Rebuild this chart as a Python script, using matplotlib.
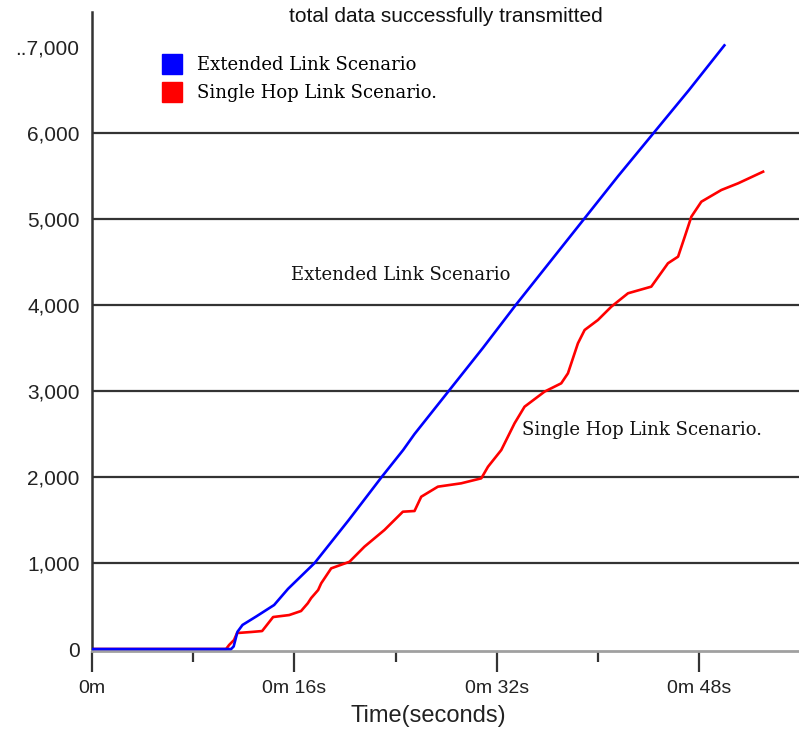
import matplotlib
matplotlib.use("Agg")
import matplotlib.pyplot as plt
from matplotlib.lines import Line2D

# time in seconds, total data transmitted
ext_t = [0, 11.0, 11.2, 11.5, 11.9, 13.0, 14.4, 15.5, 17.6, 20.3, 22.9, 24.6,
         25.5, 28.2, 30.9, 33.5, 36.2, 38.9, 41.6, 44.4, 47.2, 50.0]
ext_v = [0, 0, 30, 200, 280, 380, 512, 700, 1000, 1500, 2000, 2314,
         2500, 3000, 3500, 4000, 4500, 5000, 5500, 6000, 6500, 7020]

hop_t = [0, 10.6, 10.84, 11.23, 11.47, 12.58, 13.45, 14.32, 15.59, 16.53, 17.06,
         17.33, 17.88, 18.12, 18.91, 20.36, 21.54, 23.12, 24.58, 25.5, 26.03,
         27.35, 29.19, 30.78, 31.31, 32.36, 33.41, 34.2, 35.78, 37.1, 37.63,
         38.42, 38.95, 40.0, 41.06, 42.38, 44.22, 45.54, 46.34, 46.87, 47.39,
         48.18, 49.76, 51.09, 53.06]
hop_v = [0, 0, 47, 105, 186, 198, 209, 372, 395, 442, 532,
         593, 686, 764, 938, 1015, 1190, 1384, 1597, 1605, 1771,
         1888, 1927, 1985, 2120, 2314, 2625, 2818, 2993, 3090, 3206,
         3555, 3710, 3826, 3981, 4137, 4214, 4486, 4563, 4796, 5028,
         5202, 5338, 5416, 5551]

x_ticks = [0, 16, 32, 48]
x_labels = ["0m", "0m 16s", "0m 32s", "0m 48s"]
y_ticks = [0, 1000, 2000, 3000, 4000, 5000, 6000, 7000]
y_labels = ["0", "1,000", "2,000", "3,000", "4,000", "5,000", "6,000", "..7,000"]

sans = ["Liberation Sans", "DejaVu Sans"]
serif = "DejaVu Serif"

fig = plt.figure(figsize=(7.99, 7.34), dpi=100)
ax = fig.add_axes([92 / 799, 83 / 734, 707 / 799, 639 / 734])

ax.plot(ext_t, ext_v, color="#0000ff", lw=1.9, zorder=3)
ax.plot(hop_t, hop_v, color="#ff0000", lw=1.9, zorder=2)

ax.set_xlim(0, 55.9)
ax.set_ylim(-23, 7408)

for g in y_ticks[1:-1]:
    ax.axhline(g, color="#333333", lw=1.6, zorder=1)

ax.set_xticks(x_ticks)
ax.set_xticklabels(x_labels, family=sans, fontsize=14, color="#222222")
ax.set_xticks([8, 24, 40], minor=True)
ax.tick_params(axis="x", which="major", length=15, width=1.6, color="#333333", pad=6)
ax.tick_params(axis="x", which="minor", length=8, width=1.6, color="#333333")
ax.set_yticks(y_ticks)
ax.set_yticklabels(y_labels, family=sans, fontsize=15, color="#222222")
ax.tick_params(axis="y", length=0, pad=9)

for s in ["top", "right"]:
    ax.spines[s].set_visible(False)
ax.spines["left"].set_color("#333333")
ax.spines["left"].set_linewidth(1.8)
ax.spines["bottom"].set_color("#a0a0a0")
ax.spines["bottom"].set_linewidth(2)

ax.set_xlabel("Time(seconds)", family=sans, fontsize=17, color="#222222")
ax.xaxis.set_label_coords(0.475, -0.084)

fig.text(446 / 799, 1 - 17 / 734, "total data successfully transmitted",
         family=sans, fontsize=15, color="#111111", ha="center", va="center")

handles = [Line2D([], [], marker="s", ls="", color="#0000ff", markersize=14),
           Line2D([], [], marker="s", ls="", color="#ff0000", markersize=14)]
ax.legend(handles, ["Extended Link Scenario", "Single Hop Link Scenario."],
          loc="upper left", bbox_to_anchor=(152 / 799, 1 - 47 / 734),
          bbox_transform=fig.transFigure, frameon=False, borderpad=0,
          handlelength=1.2, handletextpad=0.8, labelspacing=0.55,
          prop={"family": serif, "size": 13})

ax.text(15.74, 4349, "Extended Link Scenario", family=serif, fontsize=13,
        color="#111111", va="center", ha="left")
ax.text(34.0, 2547, "Single Hop Link Scenario.", family=serif, fontsize=13,
        color="#111111", va="center", ha="left")

fig.savefig("out.png", dpi=100)
